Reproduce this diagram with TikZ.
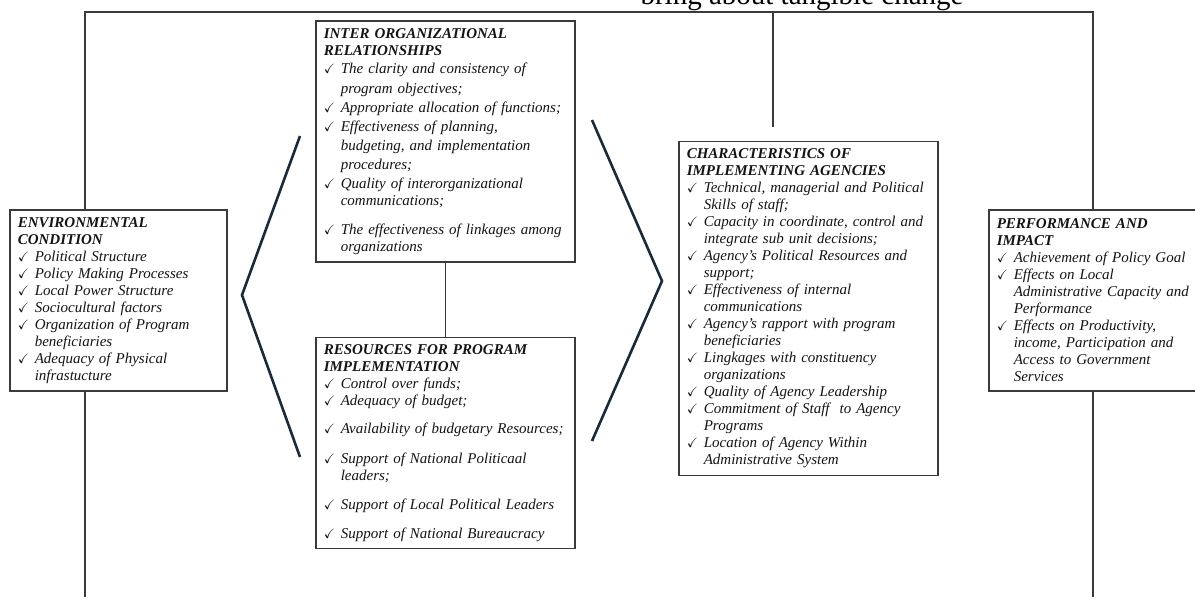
\documentclass[tikz,border=0pt]{standalone}
\usepackage{fontspec}
\setmainfont{Liberation Serif}
\usepackage{amssymb}
\usetikzlibrary{positioning}
\definecolor{chevblue}{HTML}{1B2A38}
\definecolor{linegray}{HTML}{3A3A3A}
\newcommand{\tick}{\makebox[17pt][l]{\scalebox{0.9}{$\checkmark$}}}
\newcommand{\hang}{\hspace*{17pt}}
\newcommand{\hd}[1]{\textbf{#1}}
\tikzset{
  box/.style={draw=linegray, fill=white, line width=1.6pt, align=left, anchor=north west,
    inner xsep=8pt, inner ysep=0pt, text=black!92,
    font=\fontsize{15}{17}\selectfont\itshape},
  frame/.style={draw=linegray, line width=1.3pt},
  chev/.style={draw=chevblue, line width=2.6pt, line join=miter},
}
\begin{document}
\begin{tikzpicture}[x=1pt, y=-1pt]
  \useasboundingbox (0,0) rectangle (1195,597);
  \node[anchor=base west, font=\fontsize{29}{29}\selectfont] (title) at (637,5) {bring about tangible change};
  % boxes
  \node[box, text width=201pt, minimum height=181pt] (env) at (9,209) {\hd{ENVIRONMENTAL}\\
    \hd{CONDITION}\\
    \tick Political Structure\\
    \tick Policy Making Processes\\
    \tick Local Power Structure\\
    \tick Sociocultural factors\\
    \tick Organization of Program\\
    \hang beneficiaries\\
    \tick Adequacy of Physical\\
    \hang infrastucture};
  \node[box, text width=243pt, minimum height=241pt] (inter) at (315,20) {\hd{INTER ORGANIZATIONAL}\\
    \hd{RELATIONSHIPS}\\[1pt]
    \tick The clarity and consistency of\\[3pt]
    \hang program objectives;\\[2pt]
    \tick Appropriate allocation of functions;\\[2pt]
    \tick Effectiveness of planning,\\[2pt]
    \hang budgeting, and implementation\\[2pt]
    \hang procedures;\\[2pt]
    \tick Quality of interorganizational\\
    \hang communications;\\[12pt]
    \tick The effectiveness of linkages among\\
    \hang organizations};
  \node[box, below=74pt of inter, text width=243pt, minimum height=211pt] (res) {\hd{RESOURCES FOR PROGRAM}\\
    \hd{IMPLEMENTATION}\\
    \tick Control over funds;\\
    \tick Adequacy of budget;\\[11pt]
    \tick Availability of budgetary Resources;\\[13pt]
    \tick Support of National Politicaal\\
    \hang leaders;\\[12pt]
    \tick Support of Local Political Leaders\\[12pt]
    \tick Support of National Bureaucracy};
  \node[box, text width=243pt, minimum height=334pt] (char) at (678,140.5) {\hd{CHARACTERISTICS OF}\\
    \hd{IMPLEMENTING AGENCIES}\\
    \tick Technical, managerial and Political\\
    \hang Skills of staff;\\
    \tick Capacity in coordinate, control and\\
    \hang integrate sub unit decisions;\\
    \tick Agency’s Political Resources and\\
    \hang support;\\
    \tick Effectiveness of internal\\
    \hang communications\\
    \tick Agency’s rapport with program\\
    \hang beneficiaries\\
    \tick Lingkages with constituency\\
    \hang organizations\\
    \tick Quality of Agency Leadership\\
    \tick Commitment of Staff~ to Agency\\
    \hang Programs\\
    \tick Location of Agency Within\\
    \hang Administrative System};
  \node[box, text width=196pt, minimum height=181pt] (perf) at (988,209) {\hd{PERFORMANCE AND}\\
    \hd{IMPACT}\\
    \tick Achievement of Policy Goal\\
    \tick Effects on Local\\
    \hang Administrative Capacity and\\
    \hang Performance\\
    \tick Effects on Productivity,\\
    \hang income, Participation and\\
    \hang Access to Government\\
    \hang Services};
  % frame
  \coordinate (topL) at (85,12);
  \coordinate (topR) at (1093,12);
  \coordinate (botL) at (85,597);
  \coordinate (botR) at (1093,597);
  \coordinate (topM) at (773,12);
  \coordinate (endM) at (773,127);
  \draw[frame] (env.north -| topL) -- (topL) -- (topR) -- (perf.north -| topR);
  \draw[frame] (env.south -| botL) -- (botL);
  \draw[frame] (perf.south -| botR) -- (botR);
  \draw[frame] (topM) -- (endM);
  \draw[frame] (inter) -- (res);
  % chevrons
  \draw[chev] (300,136) -- (242,295) -- (300,457);
  \draw[chev] (592,120) -- (662,281) -- (592,441);
\end{tikzpicture}
\end{document}
